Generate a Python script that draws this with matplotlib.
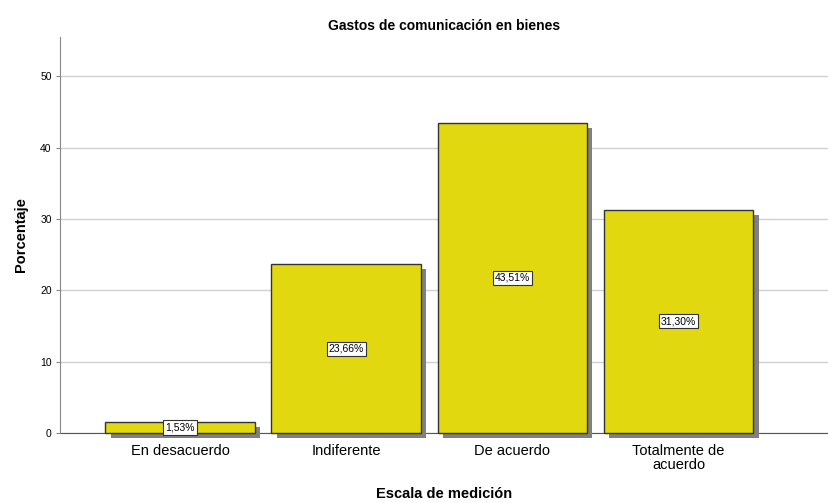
import matplotlib.pyplot as plt
import matplotlib.patheffects as pe

plt.rcParams['font.family'] = ['Liberation Sans', 'DejaVu Sans']

categorias = ['En desacuerdo', 'Indiferente', 'De acuerdo', 'Totalmente de\nacuerdo']
porcentajes = [1.53, 23.66, 43.51, 31.30]
yticks = [0, 10, 20, 30, 40, 50]

fig = plt.figure(figsize=(8.29, 5.03), dpi=100)
ax = fig.add_axes([60 / 829, 70 / 503, 768 / 829, 396 / 503])

x = list(range(len(categorias)))
bars = ax.bar(x, porcentajes, width=0.9, color='#e2d80f', edgecolor='#333333',
              linewidth=1.0, zorder=3)
for b in bars:
    b.set_clip_on(False)
    b.set_path_effects([pe.SimplePatchShadow(offset=(3.8, -3.8), shadow_rgbFace='#808080',
                                             alpha=1.0), pe.Normal()])

for xi, v in zip(x, porcentajes):
    ax.text(xi, v / 2, f'{v:.2f}%'.replace('.', ','), ha='center', va='center',
            fontsize=7.5, zorder=5,
            bbox=dict(boxstyle='square,pad=0.2', fc='white', ec='#333333', lw=0.8))

ax.set_xlim(-0.723, 3.9)
ax.set_ylim(0, 55.5)
ax.set_yticks(yticks)
ax.set_yticklabels([str(t) for t in yticks], fontsize=7.5)
ax.set_xticks(x)
ax.set_xticklabels(categorias, fontsize=10.5, linespacing=1.0)
ax.tick_params(axis='x', length=0, pad=8)
ax.tick_params(axis='y', length=3, color='#888888', pad=3)
ax.yaxis.grid(True, color='#d0d0d0', linewidth=1, zorder=0)
ax.set_axisbelow(True)

for s in ['top', 'right']:
    ax.spines[s].set_visible(False)
ax.spines['left'].set_color('#888888')
ax.spines['bottom'].set_color('#555555')
ax.spines['bottom'].set_zorder(2)

ax.set_title('Gastos de comunicación en bienes', fontsize=10, fontweight='bold', pad=5)
ax.set_xlabel('Escala de medición', fontsize=10.5, fontweight='bold', labelpad=11)
ax.set_ylabel('Porcentaje', fontsize=10.5, fontweight='bold', labelpad=9)

fig.savefig('out.png', dpi=100)
